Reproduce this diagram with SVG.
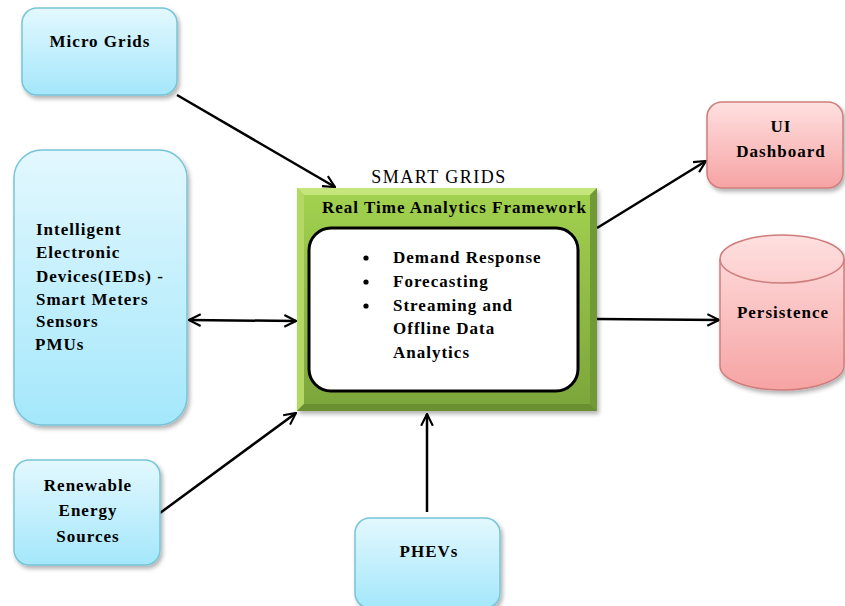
<svg xmlns="http://www.w3.org/2000/svg" width="845" height="606" viewBox="0 0 845 606">
<defs>
  <linearGradient id="blue" x1="0" y1="0" x2="0" y2="1">
    <stop offset="0" stop-color="#e3f8fe"/>
    <stop offset="1" stop-color="#a4e7fb"/>
  </linearGradient>
  <linearGradient id="red" x1="0" y1="0" x2="0" y2="1">
    <stop offset="0" stop-color="#ffe0e0"/>
    <stop offset="1" stop-color="#f6a3a3"/>
  </linearGradient>
  <linearGradient id="green" x1="0" y1="0" x2="0" y2="1">
    <stop offset="0" stop-color="#a3d250"/>
    <stop offset="1" stop-color="#7ba53a"/>
  </linearGradient>
  <filter id="sh" x="-10%" y="-10%" width="130%" height="130%">
    <feDropShadow dx="2" dy="3" stdDeviation="2" flood-color="#000" flood-opacity="0.3"/>
  </filter>
  <marker id="arr" viewBox="0 0 12 12" refX="11" refY="6" markerWidth="14" markerHeight="14" markerUnits="userSpaceOnUse" orient="auto-start-reverse">
    <path d="M1,1 L11,6 L1,11" fill="none" stroke="#000" stroke-width="1.8"/>
  </marker>
  <style>
    .b { fill: url(#blue); stroke: #78c4d8; stroke-width: 1.5; filter: url(#sh); }
    .r { fill: url(#red); stroke: #cf7d7d; stroke-width: 1.5; filter: url(#sh); }
    .t { font-family: "Liberation Serif", "Times New Roman", serif; font-size: 17px; font-weight: bold; fill: #000; letter-spacing: 1px; }
    .c { text-anchor: middle; }
    .e { stroke: #000; stroke-width: 2.5; fill: none; marker-end: url(#arr); }
  </style>
</defs>
<rect width="845" height="606" fill="#fff"/>

<g id="connectors">
  <line class="e" x1="177" y1="95" x2="335" y2="187"/>
  <line class="e" x1="189" y1="320" x2="296" y2="321" style="marker-start:url(#arr)"/>
  <line class="e" x1="160" y1="513" x2="296" y2="413"/>
  <line class="e" x1="427" y1="512" x2="427" y2="414"/>
  <line class="e" x1="597" y1="228" x2="706" y2="161"/>
  <line class="e" x1="597" y1="319" x2="719" y2="320"/>
</g>

<g id="micro-grids">
  <rect class="b" x="22" y="8" width="155" height="87" rx="15"/>
  <text class="t c" x="100" y="47">Micro Grids</text>
</g>

<g id="ieds">
  <rect class="b" x="14" y="150" width="173" height="275" rx="28"/>
  <text class="t" x="36" y="235">Intelligent</text>
  <text class="t" x="36" y="258">Electronic</text>
  <text class="t" x="36" y="282">Devices(IEDs) -</text>
  <text class="t" x="36" y="305">Smart Meters</text>
  <text class="t" x="36" y="327">Sensors</text>
  <text class="t" x="35" y="350">PMUs</text>
</g>

<g id="renewable">
  <rect class="b" x="14" y="460" width="146" height="105" rx="15"/>
  <text class="t c" x="88" y="491">Renewable</text>
  <text class="t c" x="88" y="516">Energy</text>
  <text class="t c" x="88" y="542">Sources</text>
</g>

<g id="phevs">
  <rect class="b" x="355" y="518" width="145" height="90" rx="15"/>
  <text class="t c" x="429" y="557">PHEVs</text>
</g>

<g id="framework">
  <text x="439" y="183" text-anchor="middle" font-family="Liberation Serif, 'Times New Roman', serif" font-size="18" letter-spacing="1.5" fill="#000">SMART GRIDS</text>
  <rect x="297" y="188" width="300" height="223" fill="url(#green)" filter="url(#sh)"/>
  <polygon points="297,188 597,188 590,195 304,195" fill="#c4e67c"/>
  <polygon points="297,188 304,195 304,404 297,411" fill="#b4d866"/>
  <polygon points="597,188 597,411 590,404 590,195" fill="#729a34"/>
  <polygon points="297,411 597,411 590,404 304,404" fill="#6a8f30"/>
  <text class="t" x="322" y="213" font-size="16">Real Time Analytics Framework</text>
  <rect x="309" y="228" width="269" height="163" rx="22" fill="#fff" stroke="#000" stroke-width="3"/>
  <circle cx="366" cy="258" r="2.6" fill="#000"/>
  <circle cx="366" cy="282" r="2.6" fill="#000"/>
  <circle cx="366" cy="306" r="2.6" fill="#000"/>
  <text class="t" x="393" y="263" font-size="16">Demand Response</text>
  <text class="t" x="393" y="287" font-size="16">Forecasting</text>
  <text class="t" x="393" y="311" font-size="16">Streaming and</text>
  <text class="t" x="393" y="334" font-size="16">Offline Data</text>
  <text class="t" x="393" y="358" font-size="16">Analytics</text>
</g>

<g id="ui-dashboard">
  <rect class="r" x="707" y="102" width="136" height="86" rx="15"/>
  <text class="t c" x="781" y="132">UI</text>
  <text class="t c" x="781" y="157">Dashboard</text>
</g>

<g id="persistence">
  <path class="r" d="M720,259 A62,24 0 0 1 844,259 L844,366 A62,24 0 0 1 720,366 Z"/>
  <path d="M720,259 A62,24 0 0 0 844,259" fill="none" stroke="#cf7d7d" stroke-width="1.5"/>
  <text class="t c" x="783" y="318">Persistence</text>
</g>
</svg>
